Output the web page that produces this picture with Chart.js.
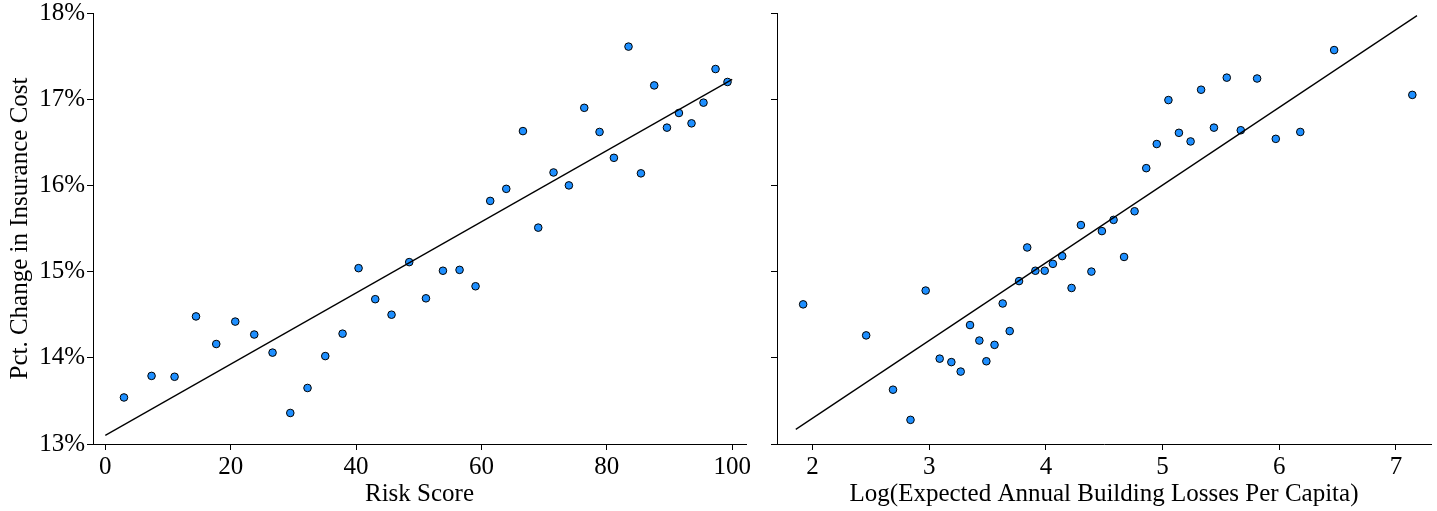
<!DOCTYPE html>
<html>
<head>
<meta charset="utf-8">
<script src="https://cdn.jsdelivr.net/npm/chart.js@4/dist/chart.umd.min.js"></script>
<style>
  html, body { margin: 0; padding: 0; background: #fff; }
  #wrap { position: relative; width: 1437px; height: 511px; }
  .panel { position: absolute; top: 0; height: 511px; }
</style>
</head>
<body>
<div id="wrap">
  <div class="panel" style="left:0;width:760px"><canvas id="left"></canvas></div>
  <div class="panel" style="left:760px;width:677px"><canvas id="right"></canvas></div>
</div>
<script>
/* global Chart */

// left panel: risk score vs pct change
const riskScore = [2.98, 7.38, 11.05, 14.47, 17.70, 20.73, 23.76, 26.68, 29.51, 32.26,
  35.09, 37.85, 40.40, 43.06, 45.66, 48.48, 51.15, 53.86, 56.51, 59.06,
  61.40, 63.96, 66.62, 69.06, 71.50, 73.95, 76.40, 78.84, 81.13, 83.46,
  85.44, 87.56, 89.59, 91.50, 93.51, 95.42, 97.34, 99.25];
const riskChange = [13.54, 13.79, 13.78, 14.48, 14.16, 14.42, 14.27, 14.06, 13.36, 13.65,
  14.02, 14.28, 15.04, 14.68, 14.50, 15.11, 14.69, 15.01, 15.02, 14.83,
  15.82, 15.96, 16.63, 15.51, 16.15, 16.00, 16.90, 16.62, 16.32, 17.61,
  16.14, 17.16, 16.67, 16.84, 16.72, 16.96, 17.35, 17.20];
const riskFitX = [0, 100];
const riskFitY = [13.10, 17.23];

// right panel: log losses vs pct change
const logLosses = [1.92, 2.46, 2.69, 2.84, 2.97, 3.09, 3.19, 3.27, 3.35, 3.43,
  3.49, 3.56, 3.63, 3.69, 3.77, 3.84, 3.91, 3.99, 4.06, 4.14,
  4.22, 4.30, 4.39, 4.48, 4.58, 4.67, 4.76, 4.86, 4.95, 5.05,
  5.14, 5.24, 5.33, 5.44, 5.55, 5.67, 5.81, 5.97, 6.18, 6.47, 7.14];
const lossChange = [14.62, 14.26, 13.63, 13.28, 14.78, 13.99, 13.95, 13.84, 14.38, 14.20,
  13.96, 14.15, 14.63, 14.31, 14.89, 15.28, 15.01, 15.01, 15.09, 15.18,
  14.81, 15.54, 15.00, 15.47, 15.60, 15.17, 15.70, 16.20, 16.48, 16.99,
  16.61, 16.51, 17.11, 16.67, 17.25, 16.64, 17.24, 16.54, 16.62, 17.57, 17.05];
const lossFitX = [1.857, 7.18];
const lossFitY = [13.17, 17.97];

const yTicks = [13, 14, 15, 16, 17, 18];
const riskTicks = [0, 20, 40, 60, 80, 100];
const lossTicks = [2, 3, 4, 5, 6, 7];

const FONT = "'Liberation Serif', 'DejaVu Serif', serif";
const SIZE = 25;

function pts(xs, ys) {
  return xs.map((x, i) => ({ x: x, y: ys[i] }));
}

function axisStyle() {
  return {
    grid: { display: true, drawOnChartArea: false, drawTicks: true, tickLength: 6, tickWidth: 1, tickColor: "#000" },
    border: { display: true, color: "#000", width: 1 }
  };
}

function makeChart(id, opts) {
  const ctx = document.getElementById(id).getContext("2d");
  const xAxis = Object.assign(axisStyle(), {
    type: "linear",
    min: opts.xMin,
    max: opts.xMax,
    afterBuildTicks: scale => { scale.ticks = opts.xTicks.map(v => ({ value: v })); },
    afterFit: scale => { scale.height = 67; scale.paddingLeft = 0; scale.paddingRight = 0; },
    ticks: { color: "#000", padding: 2, font: { family: FONT, size: SIZE }, maxRotation: 0 },
    title: { display: true, text: opts.xTitle, color: "#000", font: { family: FONT, size: SIZE }, padding: { top: 0, bottom: 2 } }
  });
  const yAxis = Object.assign(axisStyle(), {
    type: "linear",
    min: 13,
    max: 18,
    afterBuildTicks: scale => { scale.ticks = yTicks.map(v => ({ value: v })); },
    afterFit: scale => { scale.width = opts.yWidth; scale.paddingTop = 0; scale.paddingBottom = 0; },
    ticks: { display: opts.yLabels, color: "#000", padding: 2, font: { family: FONT, size: SIZE }, callback: v => v + "%" },
    title: { display: opts.yLabels, text: "Pct. Change in Insurance Cost", color: "#000", font: { family: FONT, size: SIZE }, padding: { top: 5, bottom: 0 } }
  });

  return new Chart(ctx, {
    type: "scatter",
    data: {
      datasets: [
        {
          type: "line",
          data: pts(opts.fitX, opts.fitY),
          borderColor: "#000",
          borderWidth: 1.3,
          pointRadius: 0,
          fill: false
        },
        {
          data: pts(opts.x, opts.y),
          backgroundColor: "#1E8FFF",
          borderColor: "#000",
          borderWidth: 1,
          pointRadius: 3.8
        }
      ]
    },
    options: {
      responsive: true,
      maintainAspectRatio: false,
      animation: false,
      layout: { padding: opts.padding },
      plugins: { legend: { display: false }, tooltip: { enabled: false } },
      scales: { x: xAxis, y: yAxis }
    }
  });
}

makeChart("left", {
  x: riskScore, y: riskChange, fitX: riskFitX, fitY: riskFitY,
  xMin: -1.96, xMax: 102.2, xTicks: riskTicks, xTitle: "Risk Score",
  yWidth: 93, yLabels: true,
  padding: { left: 0, top: 13, right: 14, bottom: 0 }
});

makeChart("right", {
  x: logLosses, y: lossChange, fitX: lossFitX, fitY: lossFitY,
  xMin: 1.696, xMax: 7.30, xTicks: lossTicks, xTitle: "Log(Expected Annual Building Losses Per Capita)",
  yWidth: 17, yLabels: false,
  padding: { left: 0, top: 13, right: 6, bottom: 0 }
});
</script>
</body>
</html>
